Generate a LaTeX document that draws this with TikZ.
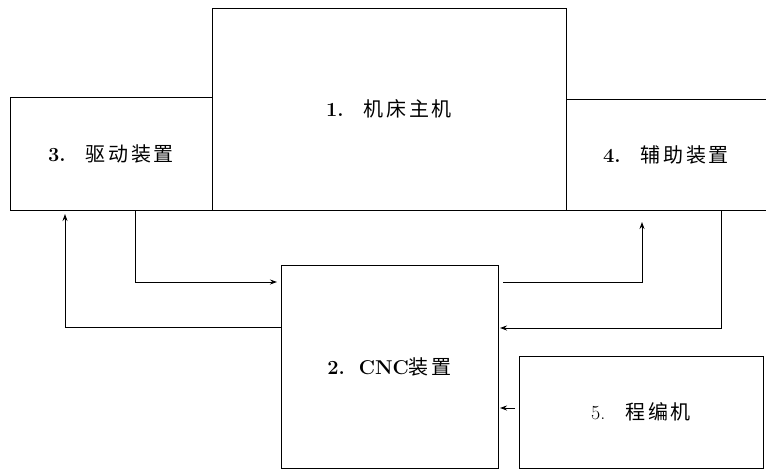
\documentclass[tikz,border=0pt]{standalone}
\usepackage{fontspec}
\newfontfamily\cjk[LetterSpace=14]{Noto Sans CJK SC}
\usetikzlibrary{arrows.meta}
\begin{document}
\begin{tikzpicture}[x=1pt,y=-1pt,
  blk/.style={inner sep=0pt,outer sep=0pt,line width=1pt,
              font=\fontsize{20}{24}\selectfont},
  arr/.style={line width=0.9pt,-{Stealth[length=7pt,width=5pt]}}]
\useasboundingbox (0,0) rectangle (766,471);
% boxes
\node[blk,draw,minimum width=354pt,minimum height=202pt] (m) at (389,109)
  {{\bfseries 1.}\hspace{1em}{\cjk 机床主机}};
\node[blk,draw,minimum width=202pt,minimum height=113pt] (d) at (111,153.5)
  {{\bfseries 3.}\hspace{1em}{\cjk 驱动装置}};
\node[blk,minimum width=200pt,minimum height=111pt] (f) at (666,154.5)
  {{\bfseries 4.}\hspace{1em}{\cjk 辅助装置}};
\draw[line width=1pt] (f.north east) -- (f.north west) -- (f.south west) -- (f.south east);
\node[blk,draw,minimum width=217pt,minimum height=203pt] (c) at (389.5,366.5)
  {{\bfseries 2.}\hspace{0.7em}{\bfseries CNC}{\cjk 装置}};
\node[blk,draw,minimum width=244pt,minimum height=112pt] (p) at (641,412)
  {5.\hspace{1em}{\cjk 程编机}};
% connectors
\coordinate (k1) at (135,282);
\draw[arr,shorten >=4pt] (d.south -| k1) |- (c.west |- k1);
\coordinate (k2) at (65,327);
\draw[arr,shorten >=4pt] (c.west |- k2) -| (d.south -| k2);
\coordinate (k3) at (642,282);
\draw[arr,shorten <=5pt,shorten >=12pt] (c.east |- k3) -| (f.south -| k3);
\coordinate (k4) at (721,328);
\draw[arr,shorten >=2pt] (f.south -| k4) |- (c.east |- k4);
\coordinate (k5) at (519,408);
\draw[arr,shorten <=4pt,shorten >=2pt] (p.west |- k5) -- (c.east |- k5);
\end{tikzpicture}
\end{document}
